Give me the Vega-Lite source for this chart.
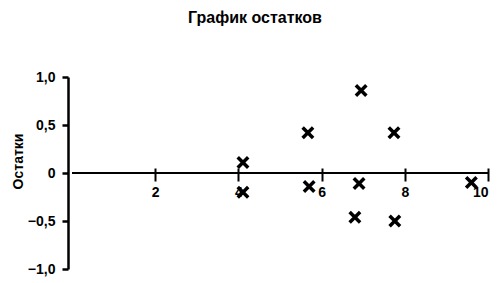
{
  "$schema": "https://vega.github.io/schema/vega-lite/v6.json",
  "width": 416,
  "height": 192,
  "autosize": {"type": "none"},
  "padding": {"left": 72, "top": 77, "right": 10, "bottom": 14},
  "background": "white",
  "config": {"view": {"stroke": null}, "font": "Liberation Sans"},
  "title": {"text": "График остатков", "fontSize": 16, "fontWeight": "bold", "font": "Liberation Sans", "anchor": "middle", "dx": -25, "offset": 44, "color": "black"},
  "data": {"values": [
    {"x": 4.11, "r": 0.11},
    {"x": 4.11, "r": -0.2},
    {"x": 5.67, "r": 0.42},
    {"x": 5.7, "r": -0.14},
    {"x": 6.95, "r": 0.86},
    {"x": 6.9, "r": -0.11},
    {"x": 6.8, "r": -0.46},
    {"x": 7.74, "r": 0.42},
    {"x": 7.76, "r": -0.5},
    {"x": 9.6, "r": -0.1}
  ]},
  "layer": [
    {
      "mark": {"type": "rule", "stroke": "black", "strokeWidth": 1.5},
      "encoding": {"y": {"datum": 0, "type": "quantitative", "scale": {"domain": [-1, 1]}}}
    },
    {
      "mark": {"type": "point", "shape": "M-1,-1L1,1M1,-1L-1,1", "filled": false, "stroke": "black", "strokeWidth": 3.5, "size": 110, "opacity": 1},
      "encoding": {
        "x": {"field": "x", "type": "quantitative", "scale": {"domain": [0, 10], "nice": false},
          "axis": {"orient": "bottom", "offset": -101, "domain": false, "values": [2, 4, 6, 8, 10], "tickSize": 13, "tickWidth": 2, "tickColor": "black", "labelPadding": 4, "labelFontSize": 14, "labelFontWeight": "bold", "labelColor": "black", "grid": false, "title": null}},
        "y": {"field": "r", "type": "quantitative", "scale": {"domain": [-1, 1], "nice": false},
          "axis": {"orient": "left", "offset": 4, "values": [-1, -0.5, 0, 0.5, 1], "labelExpr": "datum.value == 0 ? '0' : replace(format(datum.value, '.1f'), '.', ',')", "domainColor": "black", "domainWidth": 2.5, "tickColor": "black", "tickWidth": 2.5, "tickSize": 6, "labelPadding": 7, "labelFontSize": 14, "labelFontWeight": "bold", "labelColor": "black", "grid": false, "title": "Остатки", "titleFontSize": 14, "titleFontWeight": "bold", "titleColor": "black", "titlePadding": 2, "titleY": 84}}
      }
    }
  ]
}
